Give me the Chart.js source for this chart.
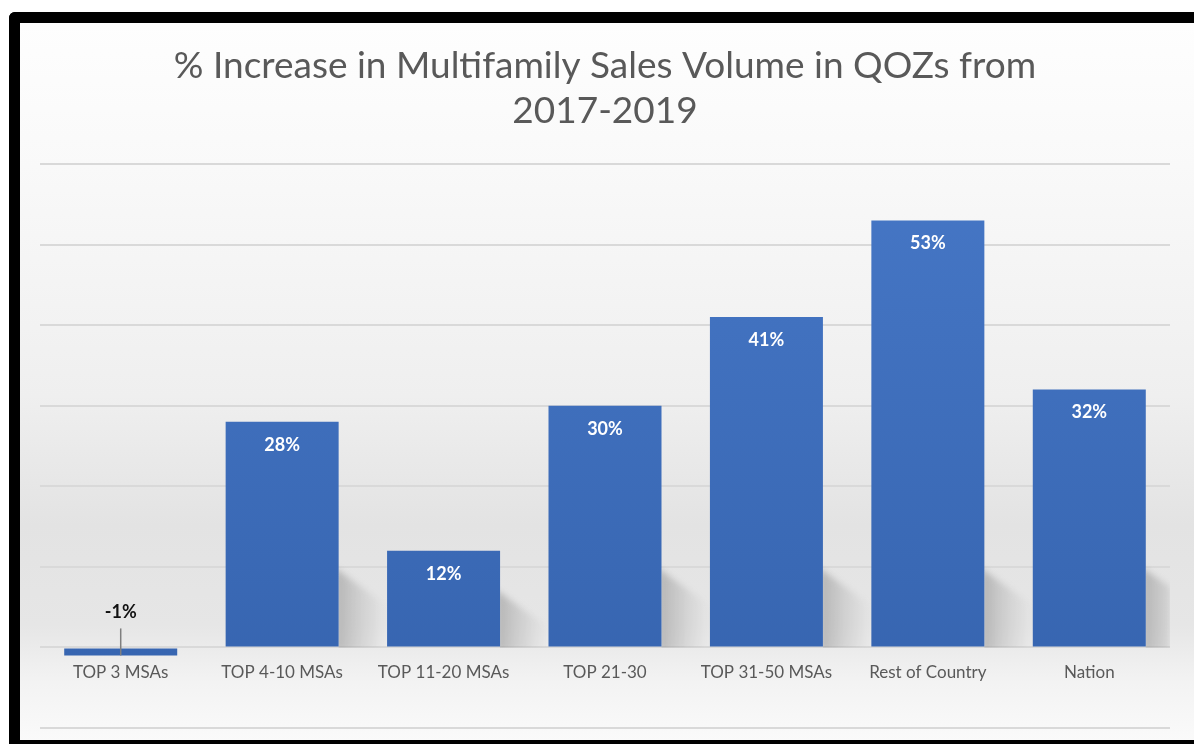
<!DOCTYPE html>
<html>
<head>
<meta charset="utf-8">
<script src="https://cdn.jsdelivr.net/npm/chart.js@4.4.1/dist/chart.umd.min.js"></script>
<style>
  html, body { margin: 0; padding: 0; background: #ffffff; width: 1194px; height: 744px; overflow: hidden; }
  #frame {
    position: absolute; left: 9px; top: 12px; width: 1200px; height: 717px;
    border-left: 11px solid #000; border-top: 11px solid #000; border-bottom: 8px solid #000;
    border-top-left-radius: 6px;
    background: linear-gradient(to bottom, #fefefe 0%, #f9f9f9 20%, #efefef 52%, #e3e3e3 70%, #e6e6e6 84%, #f3f3f3 92%, #fafafa 100%);
  }
  #wrap { position: absolute; left: 0; top: 0; width: 1174px; height: 717px; }
</style>
</head>
<body>
<div id="frame"><div id="wrap"><canvas id="c" width="1174" height="717"></canvas></div></div>
<script>
const categories = ["TOP 3 MSAs", "TOP 4-10 MSAs", "TOP 11-20 MSAs", "TOP 21-30", "TOP 31-50 MSAs", "Rest of Country", "Nation"];
const values = [-1, 28, 12, 30, 41, 53, 32];
const valueLabels = ["-1%", "28%", "12%", "30%", "41%", "53%", "32%"];
const titleLines = ["% Increase in Multifamily Sales Volume in QOZs from", "2017-2019"];
const yMin = -10, yMax = 60, yStep = 10;

const FONT = "Lato, 'Open Sans', sans-serif";

const shadowPlugin = {
  id: 'barShadow',
  beforeDatasetsDraw(chart) {
    const ctx = chart.ctx;
    const meta = chart.getDatasetMeta(0);
    const y0 = chart.scales.y.getPixelForValue(0);
    const right = chart.chartArea.right;
    meta.data.forEach((bar, i) => {
      if (values[i] <= 0) return;
      const xR = bar.x + bar.width / 2;
      const h = Math.min((y0 - bar.y) * 0.6, 80);
      const w = 48;
      const xE = Math.min(xR + w, right);
      const g = ctx.createLinearGradient(xR, 0, xR + w, 0);
      g.addColorStop(0, 'rgba(110,110,110,0.38)');
      g.addColorStop(1, 'rgba(150,150,150,0.0)');
      ctx.save();
      ctx.beginPath();
      ctx.rect(xR, chart.chartArea.top, right - xR, y0 - chart.chartArea.top);
      ctx.clip();
      ctx.filter = 'blur(3px)';
      ctx.beginPath();
      ctx.moveTo(xR - 4, y0 - h);
      ctx.lineTo(xE, y0 - h + (xE - xR) * 0.8);
      ctx.lineTo(xE, y0 + 4);
      ctx.lineTo(xR - 4, y0 + 4);
      ctx.closePath();
      ctx.fillStyle = g;
      ctx.fill();
      ctx.restore();
    });
  }
};

const labelPlugin = {
  id: 'valueLabels',
  afterDatasetsDraw(chart) {
    const ctx = chart.ctx;
    const meta = chart.getDatasetMeta(0);
    const y0 = chart.scales.y.getPixelForValue(0);
    ctx.save();
    ctx.font = "bold 18px " + FONT;
    ctx.textAlign = 'center';
    ctx.textBaseline = 'middle';
    meta.data.forEach((bar, i) => {
      if (values[i] >= 0) {
        ctx.fillStyle = '#ffffff';
        ctx.fillText(valueLabels[i], bar.x, bar.y + 23);
      } else {
        ctx.strokeStyle = '#7f7f7f';
        ctx.lineWidth = 1.5;
        ctx.beginPath();
        ctx.moveTo(bar.x, y0 - 19);
        ctx.lineTo(bar.x, bar.y);
        ctx.stroke();
        ctx.fillStyle = '#111111';
        ctx.fillText(valueLabels[i], bar.x, y0 - 35);
      }
    });
    ctx.restore();
  }
};

new Chart(document.getElementById('c'), {
  type: 'bar',
  data: {
    labels: categories,
    datasets: [{
      data: values,
      backgroundColor: (c) => {
        const a = c.chart.chartArea;
        if (!a) return '#4472c4';
        const g = c.chart.ctx.createLinearGradient(0, a.top, 0, a.bottom);
        g.addColorStop(0, '#4677c6');
        g.addColorStop(1, '#3563ae');
        return g;
      },
      borderWidth: 0,
      categoryPercentage: 1.0,
      barPercentage: 0.7
    }]
  },
  options: {
    responsive: false,
    animation: false,
    layout: { padding: { left: 20, right: 24, top: 0, bottom: 12 } },
    plugins: {
      legend: { display: false },
      tooltip: { enabled: false },
      title: {
        display: true,
        text: titleLines,
        color: '#595959',
        font: { family: FONT, size: 37, weight: 'normal', lineHeight: 1.23 },
        padding: { top: 20, bottom: 30 }
      }
    },
    scales: {
      x: {
        position: { y: 0 },
        grid: { display: false, drawTicks: false },
        border: { display: false },
        ticks: { color: '#595959', font: { family: FONT, size: 17 }, padding: 15, maxRotation: 0, autoSkip: false }
      },
      y: {
        min: yMin, max: yMax,
        ticks: { display: false, stepSize: yStep },
        grid: { color: '#d9d9d9', lineWidth: 2, drawTicks: false },
        border: { display: false }
      }
    }
  },
  plugins: [shadowPlugin, labelPlugin]
});
</script>
</body>
</html>
